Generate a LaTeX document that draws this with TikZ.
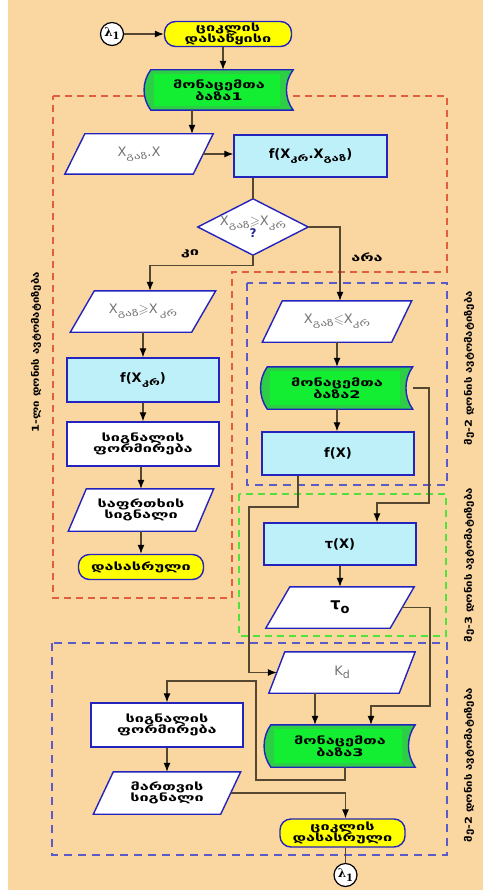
\documentclass[tikz,border=0pt]{standalone}
\usepackage{fontspec}
\usepackage{amssymb}
\usetikzlibrary{calc,arrows.meta}
\setmainfont{DejaVu Sans}
\newfontfamily\geo{DejaVu Sans}[FakeStretch=1.55]
\newfontfamily\geoside{DejaVu Sans}[FakeStretch=1.2]
\newfontfamily\lamfont{DejaVu Serif}
\definecolor{peach}{RGB}{250,214,160}
\definecolor{shpblue}{RGB}{35,35,190}
\definecolor{cyanfill}{RGB}{190,240,250}
\definecolor{dbgreen}{RGB}{45,205,70}
\definecolor{dbinner}{RGB}{20,238,50}
\definecolor{termyellow}{RGB}{255,255,0}
\definecolor{lnbrown}{RGB}{85,72,50}
\definecolor{txtgray}{RGB}{115,115,115}
\definecolor{qblue}{RGB}{40,40,150}
\definecolor{redd}{RGB}{225,95,60}
\definecolor{blued}{RGB}{90,90,200}
\definecolor{greend}{RGB}{80,225,60}
\pgfdeclarelayer{bg}
\pgfdeclarelayer{shp}
\pgfsetlayers{bg,shp,main}
\newcommand\sbs[1]{\raisebox{-0.45ex}{\geo\fontsize{8.5}{9}\selectfont #1}}
\newcommand\gr{\normalfont\color{txtgray}\fontsize{13}{14}\selectfont}
\newcommand\Fpara[2][20]{\begin{pgfonlayer}{shp}%
 \draw[shp,fill=white] ($(#2.south west)+(-#1/2,0)$) -- ($(#2.south east)+(-#1/2,0)$) -- ($(#2.north east)+(#1/2,0)$) -- ($(#2.north west)+(#1/2,0)$) -- cycle;%
 \end{pgfonlayer}}
\newcommand\storepath{(\x1+6pt,\y1) -- (\x2,\y1) .. controls (\x2-9pt,\y1-\n1*1pt) and (\x2-9pt,\y2+\n1*1pt) .. (\x2,\y2) -- (\x1+6pt,\y2) .. controls (\x1-3pt,\y2+\n1*1pt) and (\x1-3pt,\y1-\n1*1pt) .. cycle}
\newcommand\Fstore[1]{\begin{pgfonlayer}{shp}%
 \fill[dbgreen] let \p1=(#1.north west), \p2=(#1.south east), \n1={0.3*(\y1-\y2)} in \storepath;%
 \fill[dbinner] let \p1=(#1.north west), \p2=(#1.south east) in (\x1+9pt,\y1-4pt) rectangle (\x2-13pt,\y2+4pt);%
 \draw[shp] let \p1=(#1.north west), \p2=(#1.south east), \n1={0.3*(\y1-\y2)} in \storepath;%
 \end{pgfonlayer}}
\newcommand\Fdiam[1]{\begin{pgfonlayer}{shp}\draw[shp,fill=white] (#1.north) -- (#1.east) -- (#1.south) -- (#1.west) -- cycle;\end{pgfonlayer}}
\newcommand\lam{{\lamfont\bfseries\fontsize{12}{12}\selectfont λ\raisebox{-0.5ex}{\fontsize{10}{10}\selectfont 1}}}
\begin{document}
\begin{tikzpicture}[x=1pt,y=-1pt,
 shp/.style={draw=shpblue, line width=1.4pt},
 txt/.style={inner sep=0pt, align=center, font=\geo\bfseries\fontsize{10.5}{11.5}\selectfont},
 mtxt/.style={inner sep=0pt, align=center, font=\bfseries\fontsize{13}{14}\selectfont},
 rectbox/.style={draw=shpblue, line width=1.4pt, fill=cyanfill},
 whitebox/.style={draw=shpblue, line width=1.4pt, fill=white},
 term/.style={txt, draw=shpblue, line width=1.4pt, fill=termyellow, rounded corners=11pt},
 circ/.style={circle, draw=black, line width=1.2pt, fill=white, minimum size=23pt, inner sep=0pt},
 conn/.style={draw=lnbrown, line width=1.1pt},
 arr/.style={conn, -{Latex[length=9pt,width=7pt,color=black]}},
 lab/.style={font=\geo\bfseries\fontsize{10.5}{11}\selectfont, inner sep=0pt},
 sidelab/.style={rotate=90, font=\geoside\bfseries\fontsize{9.5}{9.5}\selectfont, inner sep=0pt},
 reddash/.style={draw=redd, line width=1.1pt, dash pattern=on 7pt off 5pt},
 bluedash/.style={draw=blued, line width=1.1pt, dash pattern=on 8pt off 6pt},
 greendash/.style={draw=greend, line width=1.1pt, dash pattern=on 7pt off 5pt}]
\begin{pgfonlayer}{bg}
\fill[peach] (0,0) rectangle (483,890);
\fill[white] (0,0) rectangle (8,890);
\draw[reddash] (53,96) -- (447,96) -- (447,272) -- (232,272) -- (232,598) -- (53,598) -- cycle;
\draw[bluedash] (247,283) rectangle (447,485);
\draw[greendash] (239,494) rectangle (446,636);
\draw[bluedash] (52,643) rectangle (447,855);
\end{pgfonlayer}
\useasboundingbox (0,0) rectangle (483,890);

% top
\node[circ] (c1) at (112,34) {\lam};
\node[term, minimum width=127pt, minimum height=25pt] (t1) at (228,34) {ციკლის\\[-1pt]დასაწყისი};
\node[txt, minimum width=148pt, minimum height=40pt] (db1) at (219,90) {მონაცემთა\\ბაზა1}; \Fstore{db1}
\node[mtxt, minimum width=128pt, minimum height=40pt] (p1) at (139,154) {\gr X\sbs{გაზ}.X}; \Fpara[20]{p1}
\node[mtxt, rectbox, minimum width=153pt, minimum height=42pt] (r1) at (310.5,156) {f(X\sbs{კრ}.X\sbs{გაზ})};
\node[mtxt, minimum width=110pt, minimum height=56pt] (d1) at (253,227) {{\gr X\sbs{გაზ}$\geqslant$X\sbs{კრ}}\\[-3pt]{\color{qblue}\bfseries\fontsize{12}{12}\selectfont ?}}; \Fdiam{d1}
\node[lab] (yes) at (190,254) {კი};
\node[lab] (no) at (367,257) {არა};

% region 1
\node[mtxt, minimum width=121pt, minimum height=41pt] (p2) at (143,311.5) {\gr X\sbs{გაზ}$\geqslant$X\,\sbs{კრ}}; \Fpara[24]{p2}
\node[mtxt, rectbox, minimum width=152pt, minimum height=44pt] (r2) at (143,380) {f(X\sbs{კრ})};
\node[txt, whitebox, minimum width=152pt, minimum height=44pt] (r3) at (143,444) {სიგნალის\\ფორმირება};
\node[txt, minimum width=127pt, minimum height=42pt] (p3) at (141,510) {საფრთხის\\სიგნალი}; \Fpara[18]{p3}
\node[term, minimum width=125pt, minimum height=25pt] (t2) at (141,567) {დასასრული};

% region 2
\node[mtxt, minimum width=129pt, minimum height=41pt] (p4) at (337,321.5) {\gr X\sbs{გაზ}$\leqslant$X\sbs{კრ}}; \Fpara[20]{p4}
\node[txt, minimum width=151pt, minimum height=42pt] (db2) at (337,388) {მონაცემთა\\ბაზა2}; \Fstore{db2}
\node[mtxt, rectbox, minimum width=152pt, minimum height=43pt] (r4) at (338,453.5) {f(X)};

% region 3
\node[mtxt, rectbox, minimum width=152pt, minimum height=42pt] (r5) at (340,544) {τ(X)};
\node[mtxt, minimum width=124pt, minimum height=41pt] (p5) at (340,607.5) {\fontsize{16}{16}\selectfont τ\raisebox{-0.5ex}{\fontsize{13}{13}\selectfont o}}; \Fpara[24]{p5}

% region 4
\node[mtxt, minimum width=130pt, minimum height=41pt] (p6) at (342,672.5) {\gr K\raisebox{-0.5ex}{\fontsize{11}{11}\selectfont d}}; \Fpara[16]{p6}
\node[txt, minimum width=150pt, minimum height=42pt] (db3) at (340,746) {მონაცემთა\\ბაზა3}; \Fstore{db3}
\node[txt, whitebox, minimum width=152pt, minimum height=44pt] (r6) at (167,725) {სიგნალის\\ფორმირება};
\node[txt, minimum width=127pt, minimum height=42pt] (p7) at (167,793) {მართვის\\სიგნალი}; \Fpara[20]{p7}
\node[term, minimum width=125pt, minimum height=28pt] (t3) at (342.5,833) {ციკლის\\[-1pt]დასასრული};
\node[circ] (c2) at (345.5,875) {\lam};

% side labels
\node[sidelab] (s1) at (36,352) {1-ლი დონის ავტომატიზება};
\node[sidelab] (s2) at (469,368) {მე-2 დონის ავტომატიზება};
\node[sidelab] (s3) at (469,565) {მე-3 დონის ავტომატიზება};
\node[sidelab] (s4) at (469,765) {მე-2 დონის ავტომატიზება};

% bend points
\coordinate (b1) at (429,503);
\coordinate (b2) at (249,507);
\coordinate (b3) at (430,706);
\coordinate (b4) at (256,780);
\coordinate (b5) at (167,681);

% connectors
\draw[arr] (c1.east) -- (t1.west);
\draw[arr] ([xshift=-5pt]t1.south) -- ([xshift=-5pt]t1.south |- db1.north);
\draw[arr] ([xshift=-27pt]db1.south) -- ([xshift=-27pt]db1.south |- p1.north);
\draw[arr] (p1.east) -- (p1.east -| r1.west);
\draw[conn] (r1.south -| d1.north) -- (d1.north);
\draw[arr] (d1.south) -- ++(0,10) -| ([xshift=7pt]p2.north);
\draw[arr] (d1.east) -| ([xshift=3pt]p4.north);
\draw[arr] (p2.south) -- (r2.north);
\draw[arr] (r2.south) -- (r3.north);
\draw[arr] (r3.south -| p3.north) -- (p3.north);
\draw[arr] (p3.south) -- (t2.north);
\draw[arr] (p4.south) -- (db2.north);
\draw[arr] (db2.south) -- (db2.south |- r4.north);
\draw[arr] (db2.east) -| (b1) -| ([xshift=37pt]r5.north);
\draw[arr] ([xshift=-40pt]r4.south) |- (b2) |- (p6.west);
\draw[arr] (r5.south) -- (p5.north);
\draw[arr] (p5.east) -| (b3) -| ([xshift=31pt]db3.north);
\draw[arr] ([xshift=-27pt]p6.south) -- ([xshift=-27pt]p6.south |- db3.north);
\draw[arr] ([xshift=5pt]db3.south) |- (b4) |- (b5) -- (r6.north);
\draw[arr] (r6.south) -- (p7.north);
\draw[arr] (p7.east) -| ([xshift=3pt]t3.north);
\draw[conn] ([xshift=3pt]t3.south) -- (c2.north);
\end{tikzpicture}
\end{document}
